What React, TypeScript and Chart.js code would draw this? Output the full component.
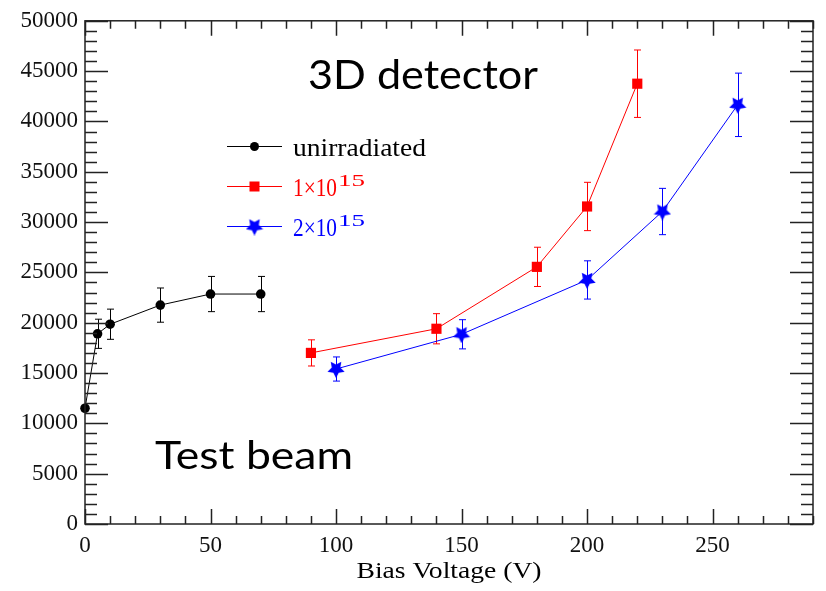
import React, { useEffect, useRef } from 'react';
import { Chart, registerables } from 'chart.js';

Chart.register(...registerables);

// ---- data ----
const unirrVoltage = [0, 5, 10, 30, 50, 70];
const unirrSignal = [11500, 18900, 19850, 21750, 22850, 22850];
const unirrError = [0, 1450, 1500, 1700, 1750, 1750];

const fluence1Voltage = [90, 140, 180, 200, 220];
const fluence1Signal = [17000, 19400, 25550, 31550, 43750];
const fluence1Error = [1300, 1500, 1950, 2400, 3350];

const fluence2Voltage = [100, 150, 200, 230, 260];
const fluence2Signal = [15400, 18850, 24250, 31050, 41650];
const fluence2Error = [1200, 1450, 1900, 2300, 3150];

const seriesNames = ['unirradiated', '1×10', '2×10'];
const seriesExponents = ['', '15', '15'];
const seriesColors = ['#000000', '#ff0000', '#0000ff'];

const xMin = 0;
const xMax = 290;
const xMajorStep = 50;
const xMinorStep = 10;
const yMin = 0;
const yMax = 50000;
const yMajorStep = 5000;
const yMinorStep = 1000;

const xAxisTitle = 'Bias Voltage (V)';
const titleText = '3D detector';
const noteText = 'Test beam';

const SERIF = '"Liberation Serif", Tinos, "Times New Roman", Times, "Nimbus Roman", FreeSerif, serif';
const SANS = 'Lato, "Open Sans", sans-serif';

function makeStar(color: string, size: number): HTMLCanvasElement {
  const c = document.createElement('canvas');
  c.width = size;
  c.height = size;
  const g = c.getContext('2d')!;
  const cx = size / 2;
  const cy = size / 2;
  const R = size / 2;
  const r = R * 0.5;
  g.beginPath();
  for (let i = 0; i < 10; i++) {
    const a = Math.PI / 2 + (i * Math.PI) / 5;
    const rad = i % 2 === 0 ? R : r;
    const px = cx + rad * Math.cos(a);
    const py = cy + rad * Math.sin(a);
    if (i === 0) g.moveTo(px, py);
    else g.lineTo(px, py);
  }
  g.closePath();
  g.fillStyle = color;
  g.fill();
  return c;
}

function fitText(
  ctx: CanvasRenderingContext2D,
  text: string,
  x: number,
  y: number,
  font: string,
  color: string,
  width?: number
) {
  ctx.save();
  ctx.font = font;
  ctx.fillStyle = color;
  ctx.textAlign = 'left';
  ctx.textBaseline = 'alphabetic';
  const w = ctx.measureText(text).width;
  const sx = width ? width / w : 1;
  ctx.translate(x, y);
  ctx.scale(sx, 1);
  ctx.fillText(text, 0, 0);
  ctx.restore();
  return w * sx;
}

const errorBarPlugin = {
  id: 'errorBars',
  beforeDatasetsDraw(chart: any) {
    const { ctx } = chart;
    const xs = chart.scales.x;
    const ys = chart.scales.y;
    chart.data.datasets.forEach((ds: any) => {
      const errs: number[] = ds.errors || [];
      ctx.save();
      ctx.strokeStyle = ds.borderColor;
      ctx.lineWidth = 1;
      ds.data.forEach((p: any, i: number) => {
        const e = errs[i];
        if (!e) return;
        const px = Math.round(xs.getPixelForValue(p.x)) + 0.5;
        const top = ys.getPixelForValue(p.y + e);
        const bot = ys.getPixelForValue(p.y - e);
        const cap = 3.5;
        ctx.beginPath();
        ctx.moveTo(px, top);
        ctx.lineTo(px, bot);
        ctx.moveTo(px - cap, top);
        ctx.lineTo(px + cap, top);
        ctx.moveTo(px - cap, bot);
        ctx.lineTo(px + cap, bot);
        ctx.stroke();
      });
      ctx.restore();
    });
  },
};

const framePlugin = {
  id: 'frameTicks',
  afterDraw(chart: any) {
    const { ctx, chartArea } = chart;
    const { left, right, top, bottom } = chartArea;
    const xs = chart.scales.x;
    const ys = chart.scales.y;
    ctx.save();
    ctx.strokeStyle = '#222222';
    ctx.lineWidth = 1.5;
    ctx.strokeRect(left, top, right - left, bottom - top);
    ctx.beginPath();
    for (let v = xMin; v <= xMax + 1e-6; v += xMinorStep) {
      const px = Math.round(xs.getPixelForValue(v)) + 0.5;
      const len = v % xMajorStep === 0 ? 15 : 8;
      ctx.moveTo(px, bottom);
      ctx.lineTo(px, bottom - len);
      ctx.moveTo(px, top);
      ctx.lineTo(px, top + len);
    }
    for (let v = yMin; v <= yMax + 1e-6; v += yMinorStep) {
      const py = Math.round(ys.getPixelForValue(v)) + 0.5;
      const len = v % yMajorStep === 0 ? 23 : 12;
      ctx.moveTo(left, py);
      ctx.lineTo(left + len, py);
      ctx.moveTo(right, py);
      ctx.lineTo(right - len, py);
    }
    ctx.stroke();
    ctx.restore();
  },
};

const textPlugin = {
  id: 'texts',
  afterDraw(chart: any) {
    const { ctx, chartArea } = chart;
    const { left, right, bottom } = chartArea;
    // axis title
    const tw = 185;
    fitText(ctx, xAxisTitle, (left + right) / 2 - tw / 2, bottom + 54, `24px ${SERIF}`, '#000', tw);

    // big annotations
    fitText(ctx, titleText, 308, 89, `40px ${SANS}`, '#000', 230);
    fitText(ctx, noteText, 155, 469, `38px ${SANS}`, '#000', 198);

    // legend
    const rows = [146, 186, 226];
    const lineX0 = 227;
    const lineX1 = 282;
    const mX = (lineX0 + lineX1) / 2;
    const textX = 293;
    const baseWidths = [133, 44, 44];
    chart.data.datasets.forEach((ds: any, i: number) => {
      const yy = rows[i];
      const col = seriesColors[i];
      ctx.save();
      ctx.strokeStyle = col;
      ctx.lineWidth = 1;
      ctx.beginPath();
      ctx.moveTo(lineX0, yy + 0.5);
      ctx.lineTo(lineX1, yy + 0.5);
      ctx.stroke();
      ctx.fillStyle = col;
      if (i === 0) {
        ctx.beginPath();
        ctx.arc(mX, yy + 0.5, 4.5, 0, Math.PI * 2);
        ctx.fill();
      } else if (i === 1) {
        ctx.fillRect(mX - 5, yy - 4.5, 10, 10);
      } else {
        const img = ds.pointStyle as HTMLCanvasElement;
        ctx.drawImage(img, mX - img.width / 2, yy + 0.5 - img.height / 2);
      }
      ctx.restore();
      const w = fitText(ctx, seriesNames[i], textX, yy + 10, `25px ${SERIF}`, col, baseWidths[i]);
      if (seriesExponents[i]) {
        fitText(ctx, seriesExponents[i], textX + w + 1, yy, `17px ${SERIF}`, col, 27);
      }
    });
  },
};

export default function App() {
  const canvasRef = useRef<HTMLCanvasElement | null>(null);

  useEffect(() => {
    const canvas = canvasRef.current;
    if (!canvas) return;
    const star = makeStar(seriesColors[2], 18);
    const toPts = (xs: number[], ys: number[]) => xs.map((x, i) => ({ x, y: ys[i] }));

    const chart = new Chart(canvas, {
      type: 'scatter',
      data: {
        datasets: [
          {
            label: seriesNames[0],
            data: toPts(unirrVoltage, unirrSignal),
            errors: unirrError,
            showLine: true,
            clip: false,
            borderColor: seriesColors[0],
            backgroundColor: seriesColors[0],
            borderWidth: 1,
            pointStyle: 'circle',
            pointRadius: 4.8,
            pointBorderWidth: 0,
            pointBackgroundColor: seriesColors[0],
          } as any,
          {
            label: seriesNames[1] + seriesExponents[1],
            data: toPts(fluence1Voltage, fluence1Signal),
            errors: fluence1Error,
            showLine: true,
            clip: false,
            borderColor: seriesColors[1],
            backgroundColor: seriesColors[1],
            borderWidth: 1,
            pointStyle: 'rect',
            pointRadius: 7.2,
            pointBorderWidth: 0,
            pointBackgroundColor: seriesColors[1],
          } as any,
          {
            label: seriesNames[2] + seriesExponents[2],
            data: toPts(fluence2Voltage, fluence2Signal),
            errors: fluence2Error,
            showLine: true,
            clip: false,
            borderColor: seriesColors[2],
            backgroundColor: seriesColors[2],
            borderWidth: 1,
            pointStyle: star,
            pointRadius: 9,
          } as any,
        ],
      },
      options: {
        responsive: false,
        maintainAspectRatio: false,
        animation: false,
        layout: { padding: { top: 19, right: 13, left: 0, bottom: 0 } },
        plugins: {
          legend: { display: false },
          tooltip: { enabled: false },
        },
        scales: {
          x: {
            type: 'linear',
            min: xMin,
            max: xMax,
            grid: { display: false, drawTicks: false },
            border: { display: false },
            ticks: {
              stepSize: xMajorStep,
              includeBounds: false,
              autoSkip: false,
              maxRotation: 0,
              minRotation: 0,
              color: '#111',
              padding: 8,
              font: { family: SERIF, size: 23 },
              callback: (v: any) => String(v),
            },
            afterFit: (s: any) => {
              s.height = 67;
            },
          },
          y: {
            type: 'linear',
            min: yMin,
            max: yMax,
            grid: { display: false, drawTicks: false },
            border: { display: false },
            ticks: {
              stepSize: yMajorStep,
              autoSkip: false,
              color: '#111',
              padding: 7,
              font: { family: SERIF, size: 23 },
              callback: (v: any) => String(v),
            },
            afterFit: (s: any) => {
              s.width = 85;
            },
          },
        },
      } as any,
      plugins: [errorBarPlugin, framePlugin, textPlugin],
    });
    return () => chart.destroy();
  }, []);

  return (
    <div
      style={{
        position: 'fixed',
        left: 0,
        top: 0,
        width: 826,
        height: 591,
        background: '#ffffff',
      }}
    >
      <canvas ref={canvasRef} width={826} height={591} style={{ display: 'block' }} />
    </div>
  );
}
